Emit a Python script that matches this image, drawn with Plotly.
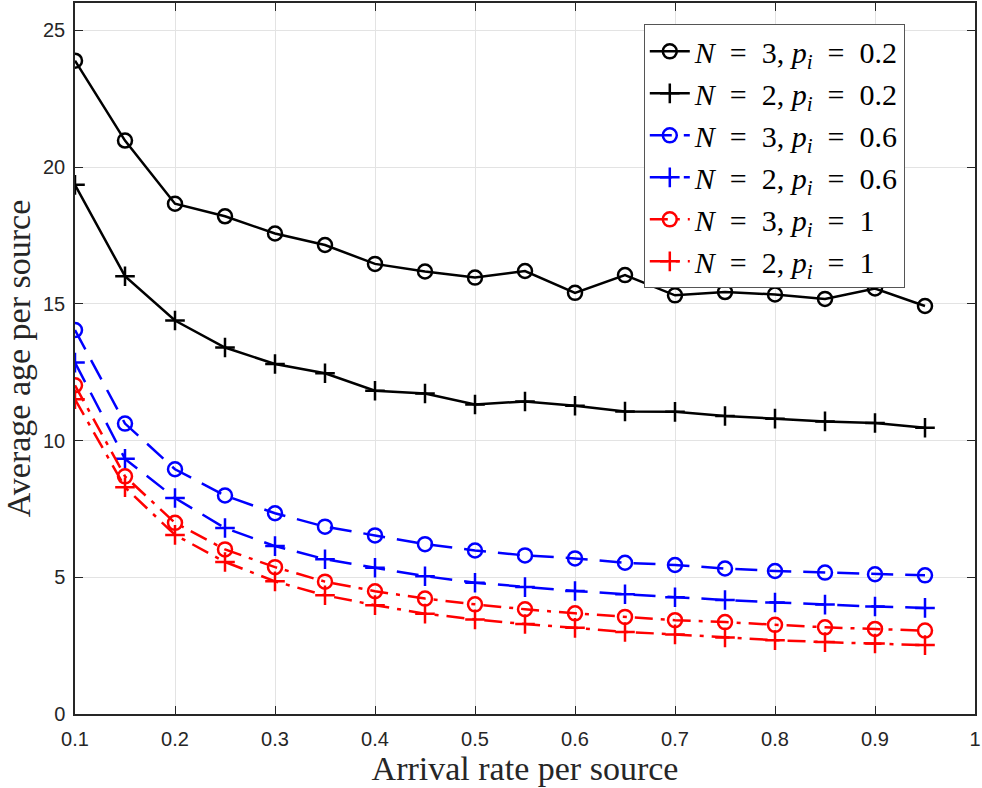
import plotly.graph_objects as go

x_rate = [0.1, 0.15, 0.2, 0.25, 0.3, 0.35, 0.4, 0.45, 0.5, 0.55, 0.6, 0.65, 0.7, 0.75, 0.8, 0.85, 0.9, 0.95]

n3_p02 = [23.89, 20.97, 18.66, 18.2, 17.57, 17.15, 16.46, 16.18, 15.96, 16.2, 15.4, 16.05, 15.31, 15.43, 15.34, 15.18, 15.56, 14.92]
n2_p02 = [19.35, 16.01, 14.39, 13.4, 12.8, 12.46, 11.82, 11.72, 11.32, 11.43, 11.27, 11.06, 11.05, 10.9, 10.8, 10.7, 10.64, 10.47]
n3_p06 = [14.04, 10.62, 8.95, 7.99, 7.34, 6.85, 6.53, 6.21, 5.98, 5.8, 5.69, 5.53, 5.45, 5.32, 5.23, 5.17, 5.11, 5.07]
n2_p06 = [12.85, 9.33, 7.9, 6.8, 6.14, 5.66, 5.35, 5.04, 4.8, 4.64, 4.5, 4.38, 4.27, 4.17, 4.08, 4.0, 3.93, 3.88]
n3_p1 = [12.02, 8.69, 6.99, 6.02, 5.37, 4.84, 4.49, 4.22, 4.01, 3.83, 3.68, 3.55, 3.43, 3.36, 3.26, 3.17, 3.11, 3.05]
n2_p1 = [11.51, 8.29, 6.55, 5.56, 4.85, 4.34, 3.98, 3.67, 3.46, 3.29, 3.15, 3.0, 2.91, 2.8, 2.7, 2.63, 2.58, 2.52]

SP = "\u2002"
labels = [
    f"<i>N</i>{SP}={SP}3, <i>p<sub>i</sub></i>{SP}={SP}0.2",
    f"<i>N</i>{SP}={SP}2, <i>p<sub>i</sub></i>{SP}={SP}0.2",
    f"<i>N</i>{SP}={SP}3, <i>p<sub>i</sub></i>{SP}={SP}0.6",
    f"<i>N</i>{SP}={SP}2, <i>p<sub>i</sub></i>{SP}={SP}0.6",
    f"<i>N</i>{SP}={SP}3, <i>p<sub>i</sub></i>{SP}={SP}1",
    f"<i>N</i>{SP}={SP}2, <i>p<sub>i</sub></i>{SP}={SP}1",
]
series = [n3_p02, n2_p02, n3_p06, n2_p06, n3_p1, n2_p1]
colors = ["black", "black", "#0000ff", "#0000ff", "#ff0000", "#ff0000"]
dashes = ["solid", "solid", "22px,12px", "22px,12px", "18px,8px,4px,8px", "18px,8px,4px,8px"]
symbols = ["circle-open", "cross-thin-open", "circle-open", "cross-thin-open", "circle-open", "cross-thin-open"]

fig = go.Figure()
for lab, ys, c, d, s in zip(labels, series, colors, dashes, symbols):
    fig.add_trace(go.Scatter(
        x=x_rate, y=ys, name=lab, mode="lines+markers",
        line=dict(color=c, width=2.5, dash=d),
        marker=dict(symbol=s, size=14, color=c, line=dict(color=c, width=2.5)),
    ))

axis_common = dict(
    showline=True, linecolor="#262626", linewidth=1.5, mirror="ticks",
    ticks="inside", ticklen=8, tickcolor="#262626", tickwidth=1,
    showgrid=True, gridcolor="#e3e3e3", gridwidth=1, zeroline=False,
    ticklabeloverflow="allow",
    tickfont=dict(family="Liberation Sans, Arial, sans-serif", size=20, color="#262626"),
)

fig.update_layout(
    width=982, height=788,
    margin=dict(l=75, r=2, t=1, b=74),
    plot_bgcolor="white", paper_bgcolor="white",
    xaxis=dict(range=[0.1, 1.0], tickmode="array",
               tickvals=[0.1, 0.2, 0.3, 0.4, 0.5, 0.6, 0.7, 0.8, 0.9, 1.0],
               ticktext=["0.1", "0.2", "0.3", "0.4", "0.5", "0.6", "0.7", "0.8", "0.9", "1"],
               ticklabelstandoff=6,
               title=dict(text="Arrival rate per source", standoff=4,
                          font=dict(family="Liberation Serif, serif", size=34, color="#262626")),
               **axis_common),
    yaxis=dict(range=[0, 26], tickmode="array", tickvals=[0, 5, 10, 15, 20, 25],
               ticklabelstandoff=4,
               title=dict(text="Average age per source", standoff=2,
                          font=dict(family="Liberation Serif, serif", size=34, color="#262626")),
               **axis_common),
    legend=dict(x=0.632, y=0.97, xanchor="left", yanchor="top",
                bgcolor="white", bordercolor="#555555", borderwidth=1,
                font=dict(family="Liberation Serif, serif", size=30, color="black"),
                itemwidth=40, tracegroupgap=0),
    showlegend=True,
)

fig.write_html("out.html")
